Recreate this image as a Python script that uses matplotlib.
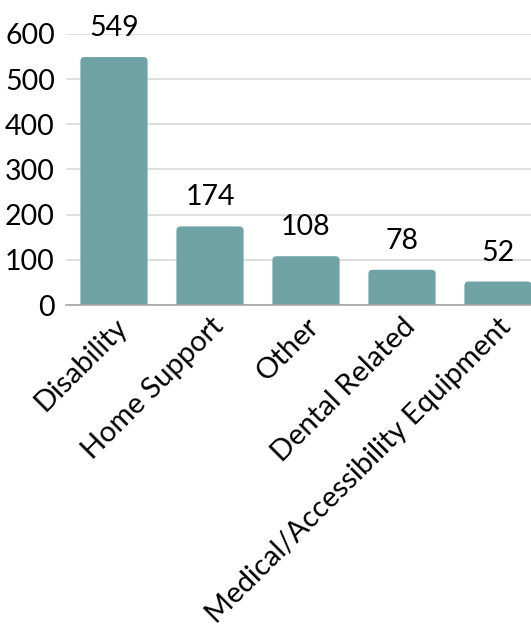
import matplotlib.pyplot as plt
from matplotlib.patches import FancyBboxPatch

categories = ['Disability', 'Home Support', 'Other', 'Dental Related',
              'Medical/Accessibility Equipment']
counts = [549, 174, 108, 78, 52]
yticks = [0, 100, 200, 300, 400, 500, 600]

plt.rcParams['font.family'] = ['Lato', 'DejaVu Sans']
bar_color = '#6fa3a6'

fig = plt.figure(figsize=(5.31, 6.38), dpi=100)
ax = fig.add_axes([66 / 531, 333 / 638, 480 / 531, 271 / 638])

bars = ax.bar(range(len(categories)), counts, width=0.7, color=bar_color, zorder=2)

# swap plain rectangles for ones with slightly rounded tops
for b in bars:
    x, w, h = b.get_x(), b.get_width(), b.get_height()
    b.set_visible(False)
    patch = FancyBboxPatch((x, -40), w, h + 40,
                           boxstyle='round,pad=0,rounding_size=0.045',
                           mutation_aspect=210, facecolor=bar_color,
                           edgecolor='none', zorder=2)
    ax.add_patch(patch)
    ax.annotate(f'{h:.0f}', (x + w / 2, h), xytext=(0, 11.5),
                textcoords='offset points', ha='center', va='bottom',
                fontsize=20.5, annotation_clip=False)

ax.set_xlim(-0.5, len(categories) - 0.5)
ax.set_ylim(0, 600)
ax.set_yticks(yticks)
ax.yaxis.grid(True, color='#d9d9d9', linewidth=1.2, zorder=0)
ax.set_axisbelow(True)

for s in ['left', 'right', 'top']:
    ax.spines[s].set_visible(False)
ax.spines['bottom'].set_color('#a6a6a6')
ax.spines['bottom'].set_linewidth(1.2)

ax.tick_params(axis='y', length=0, labelsize=20.5, pad=8)
ax.tick_params(axis='x', length=0, labelsize=21, pad=6)
ax.set_xticks(range(len(categories)))
ax.set_xticklabels(categories, rotation=45, ha='right', rotation_mode='anchor')

fig.savefig('out.png', dpi=100)
